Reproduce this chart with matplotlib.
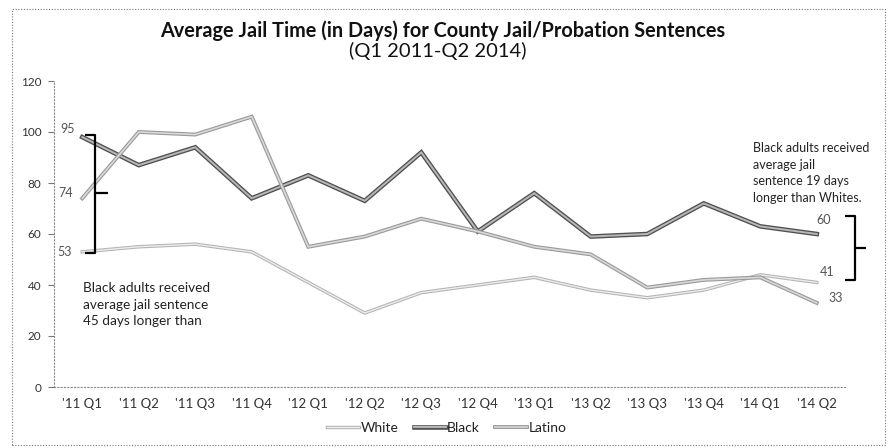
import matplotlib
matplotlib.use("Agg")
import matplotlib.pyplot as plt
import matplotlib.patheffects as pe
from matplotlib.patches import Rectangle

plt.rcParams['font.family'] = ['Lato', 'DejaVu Sans']

quarters = ["'11 Q1", "'11 Q2", "'11 Q3", "'11 Q4", "'12 Q1", "'12 Q2", "'12 Q3",
            "'12 Q4", "'13 Q1", "'13 Q2", "'13 Q3", "'13 Q4", "'14 Q1", "'14 Q2"]
white = [53, 55, 56, 53, 41, 29, 37, 40, 43, 38, 35, 38, 44, 41]
black = [98, 87, 94, 74, 83, 73, 92, 61, 76, 59, 60, 72, 63, 60]
latino = [74, 100, 99, 106, 55, 59, 66, 61, 55, 52, 39, 42, 43, 33]
yticks = [0, 20, 40, 60, 80, 100, 120]

W, H = 889, 448
fig = plt.figure(figsize=(W / 100, H / 100), dpi=100)
ax = fig.add_axes([54 / W, 1 - 387 / H, (845 - 54) / W, (387 - 81) / H])

x = list(range(len(quarters)))
styles = {
    'White': (white, '#b4b4b4', 2.5, '#ececec', 1.0),
    'Black': (black, '#505050', 3.3, '#b8b8b8', 1.4),
    'Latino': (latino, '#9a9a9a', 2.8, '#d8d8d8', 1.2),
}
for name in ['White', 'Black', 'Latino']:
    vals, outer, ow, inner, iw = styles[name]
    ax.plot(x, vals, color=inner, lw=iw, label=name, solid_joinstyle='miter',
            path_effects=[pe.Stroke(linewidth=ow, foreground=outer), pe.Normal()])

ax.set_xlim(-0.5, len(quarters) - 0.5)
ax.set_ylim(0, 120)
ax.set_yticks(yticks)
ax.set_xticks(x)
ax.set_xticklabels(quarters)
ax.tick_params(axis='y', length=4, width=0.8, color='#777', pad=5, labelsize=8.5, labelcolor='#333')
ax.tick_params(axis='x', length=0, pad=8, labelsize=9.5, labelcolor='#333')
for s in ['top', 'right']:
    ax.spines[s].set_visible(False)
for s in ['left', 'bottom']:
    ax.spines[s].set_linestyle((0, (1, 2)))
    ax.spines[s].set_color('#888')
    ax.spines[s].set_linewidth(0.8)

# brackets
bk = dict(color='black', lw=1.6, clip_on=False, solid_capstyle='butt')
ax.plot([0.05, 0.23, 0.23, 0.05], [99, 99, 52.5, 52.5], **bk)
ax.plot([0.23, 0.46], [76, 76], **bk)
ax.plot([13.5, 13.68, 13.68, 13.5], [67, 67, 42, 42], **bk)
ax.plot([13.68, 13.88], [54.5, 54.5], **bk)

# data labels
lab = dict(fontsize=9, color='#555', va='center')
ax.text(-0.39, 101, str(95), ha='left', **lab)
ax.text(-0.42, latino[0] + 2, str(latino[0]), ha='left', **lab)
ax.text(-0.44, white[0], str(white[0]), ha='left', **lab)
ax.text(13.0, black[-1] + 5.5, str(black[-1]), ha='left', **lab)
ax.text(13.06, white[-1] + 4, str(white[-1]), ha='left', **lab)
ax.text(13.2, latino[-1] + 2, str(latino[-1]), ha='left', **lab)

# annotations
ax.text(0.02, 41, "Black adults received\naverage jail sentence\n45 days longer than",
        fontsize=9.8, color='#222', va='top', ha='left', linespacing=1.45)
ax.text(11.88, 96, "Black adults received\naverage jail\nsentence 19 days\nlonger than Whites.",
        fontsize=9.0, color='#222', va='top', ha='left', linespacing=1.45)

fig.text(443 / W, 1 - 31 / H, "Average Jail Time (in Days) for County Jail/Probation Sentences",
         ha='center', va='center', fontsize=14.3, fontweight='bold', color='#111')
fig.text(438 / W, 1 - 51 / H, "(Q1 2011-Q2 2014)", ha='center', va='center', fontsize=14.5, color='#111')

leg = fig.legend(loc='center', bbox_to_anchor=(447 / W, 1 - 428 / H), ncol=3, frameon=False,
                 fontsize=10, handlelength=2.3, handletextpad=0.1, columnspacing=1.1)
for t in leg.get_texts():
    t.set_color('#222')

fig.patches.append(Rectangle((12 / W, 1 - 445 / H), 873 / W, 436 / H, transform=fig.transFigure,
                             fill=False, ls=(0, (1, 1.5)), lw=0.8, ec='#777'))

fig.savefig('out.png', dpi=100)
